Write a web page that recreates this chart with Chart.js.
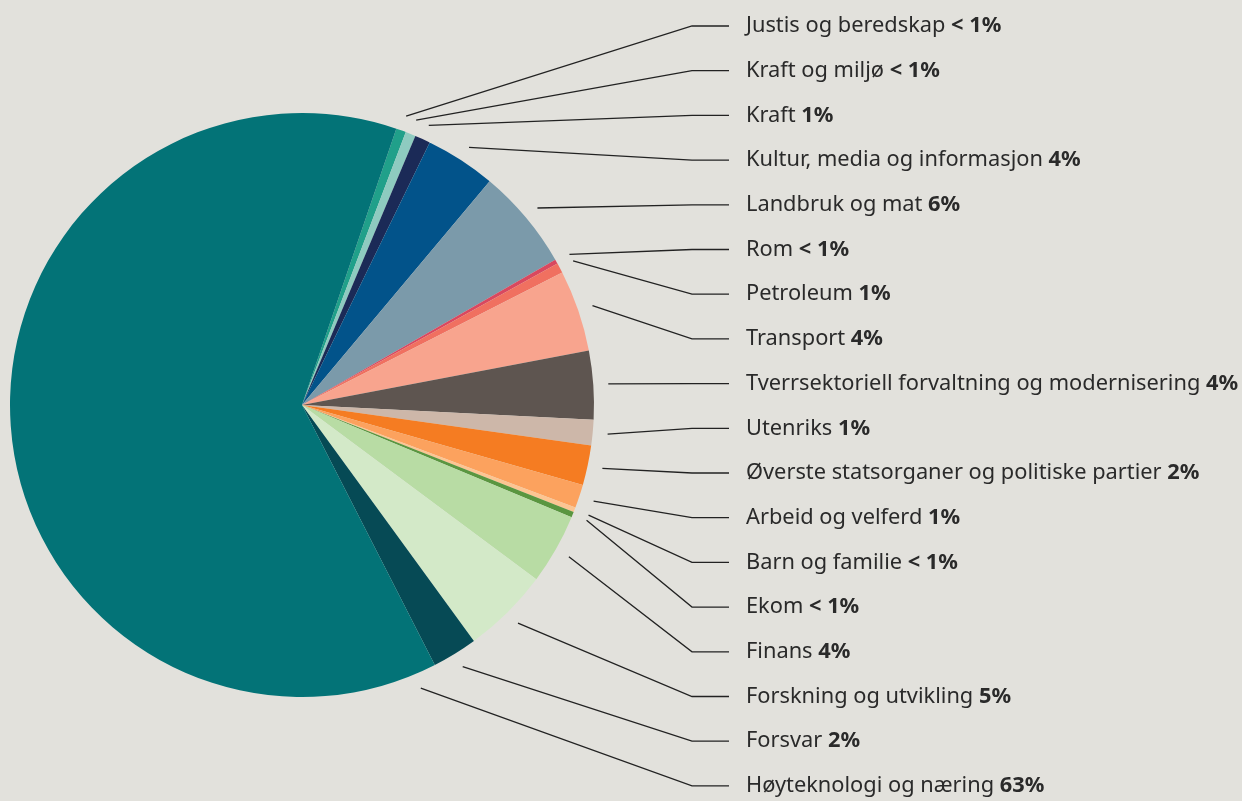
<!DOCTYPE html>
<html>
<head>
<meta charset="utf-8">
<script src="https://cdn.jsdelivr.net/npm/chart.js@4"></script>
<style>
  html, body { margin: 0; padding: 0; background: #e2e1dc; }
  #wrap { width: 1242px; height: 801px; position: relative; }
</style>
</head>
<body>
<div id="wrap"><canvas id="pie"></canvas></div>
<script>
// Sectors, clockwise from the top
const sectors = [
    'Justis og beredskap', 'Kraft og miljø', 'Kraft', 'Kultur, media og informasjon',
    'Landbruk og mat', 'Rom', 'Petroleum', 'Transport',
    'Tverrsektoriell forvaltning og modernisering', 'Utenriks',
    'Øverste statsorganer og politiske partier', 'Arbeid og velferd',
    'Barn og familie', 'Ekom', 'Finans', 'Forskning og utvikling',
    'Forsvar', 'Høyteknologi og næring'
];
const shares = [0.55, 0.56, 0.86, 3.9, 5.6, 0.24, 0.55, 4.5, 3.8, 1.4, 2.2, 1.3, 0.26, 0.3, 3.9, 4.8, 2.5, 62.7];
const shareLabels = ['< 1%', '< 1%', '1%', '4%', '6%', '< 1%', '1%', '4%', '4%', '1%', '2%', '1%', '< 1%', '< 1%', '4%', '5%', '2%', '63%'];
const colors = [
    '#20a08a', '#8ecbc0', '#1b2a57', '#02538a', '#7b9aaa', '#d9485f', '#f07060', '#f8a48e',
    '#5e5550', '#cdb7a9', '#f57c22', '#fca25e', '#fcc592', '#5a9640', '#b8dca4', '#d3e9c8',
    '#064a55', '#037377'
];

// Draw leader lines and labels on the right
const leaderLabels = {
    id: 'leaderLabels',
    afterDraw(chart) {
        const ctx = chart.ctx;
        const arcs = chart.getDatasetMeta(0).data;
        const textX = 746, elbowX = 692, endX = 729;
        ctx.save();
        arcs.forEach(function(arc, i) {
            let mid = (arc.startAngle + arc.endAngle) / 2;
            // the big slice gets its line near its lower edge, facing the labels
            if (arc.endAngle - arc.startAngle > Math.PI) {
                mid = arc.startAngle + 0.075;
            }
            const r = arc.outerRadius + 15;
            const sx = arc.x + Math.cos(mid) * r;
            const sy = arc.y + Math.sin(mid) * r;
            const ly = 26 + i * 44.7;

            ctx.strokeStyle = '#222';
            ctx.lineWidth = 1.3;
            ctx.beginPath();
            ctx.moveTo(sx, sy);
            ctx.lineTo(elbowX, ly);
            ctx.lineTo(endX, ly);
            ctx.stroke();

            ctx.fillStyle = '#2a2a2a';
            ctx.textBaseline = 'middle';
            ctx.font = '21.8px "Noto Sans"';
            const name = sectors[i] + ' ';
            ctx.fillText(name, textX, ly);
            const w = ctx.measureText(name).width;
            ctx.font = 'bold 21.8px "Noto Sans"';
            ctx.fillText(shareLabels[i], textX + w, ly);
        });
        ctx.restore();
    }
};

new Chart(document.getElementById('pie'), {
    type: 'pie',
    data: {
        labels: sectors,
        datasets: [{
            data: shares,
            backgroundColor: colors,
            borderWidth: 0
        }]
    },
    options: {
        responsive: true,
        maintainAspectRatio: false,
        animation: false,
        rotation: 18.84,
        layout: { padding: { left: 10, right: 648, top: 113, bottom: 104 } },
        plugins: {
            legend: { display: false },
            tooltip: { enabled: false }
        }
    },
    plugins: [leaderLabels]
});
</script>
</body>
</html>
